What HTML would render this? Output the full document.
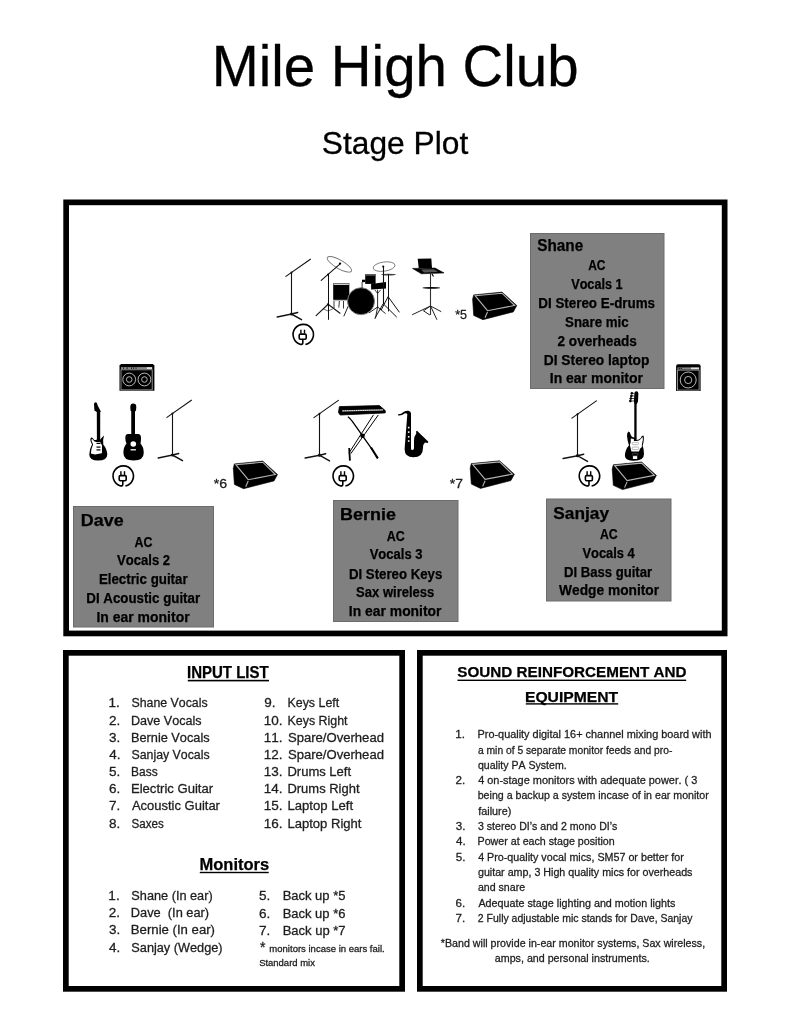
<!DOCTYPE html>
<html><head><meta charset="utf-8">
<style>
html,body{margin:0;padding:0;background:#fff;}
svg{display:block;will-change:transform;}
text{font-family:"Liberation Sans",sans-serif;font-kerning:none;white-space:pre;}
</style></head>
<body>
<svg width="791" height="1023" viewBox="0 0 791 1023">
<rect x="0" y="0" width="791" height="1023" fill="#fff"/>
<rect x="66.15" y="202.35" width="658.5" height="431.1" fill="none" stroke="#000" stroke-width="5.7"/>
<rect x="65.85" y="652.85" width="336.3" height="336" fill="none" stroke="#000" stroke-width="5.7"/>
<rect x="419.85" y="652.85" width="304.3" height="336" fill="none" stroke="#000" stroke-width="5.7"/>
<g fill="#808080" stroke="#6c6c6c" stroke-width="1">
<rect x="530.5" y="233.5" width="133.5" height="155"/>
<rect x="73.5" y="506.5" width="140" height="120.5"/>
<rect x="333.5" y="500.5" width="124.5" height="121"/>
<rect x="546.5" y="499" width="124.5" height="102"/>
</g>
<rect x="187.8" y="679.8" width="81.2" height="1.6" fill="#000"/>
<rect x="199.8" y="871.8" width="68.9" height="1.4" fill="#000"/>
<rect x="457.5" y="679.6" width="228.7" height="1.4" fill="#000"/>
<rect x="525.8" y="703.2" width="92.4" height="1.4" fill="#000"/>
<defs>
<g id="mic" fill="none" stroke="#111" stroke-linecap="round">
<line x1="-5.6" y1="3.9" x2="18.9" y2="-13.3" stroke-width="1.1"/>
<line x1="0" y1="0" x2="0" y2="41.5" stroke-width="1.1"/>
<path d="M-14.3,44.4 L0,41.5 L10,47.2 M0,41.5 L6.2,40" stroke-width="1.5"/>
<circle cx="0" cy="0" r="1" fill="#111" stroke="none"/>
<circle cx="0" cy="41.5" r="1.6" fill="#111" stroke="none"/>
</g>
<g id="pwr">
<path d="M-0.5,5 L-0.5,8.2 Q-0.5,10.1 -2.6,9.9 A10.2,10.2 0 1 1 2.1,10" fill="none" stroke="#000" stroke-width="1.6"/>
<rect x="-4.1" y="-0.4" width="7" height="5.2" rx="1.2" fill="none" stroke="#000" stroke-width="1.6"/>
<rect x="-3.1" y="-4.8" width="1.4" height="3.8" fill="#000"/>
<rect x="0.5" y="-4.8" width="1.4" height="3.8" fill="#000"/>
</g>
<g id="wedge">
<path d="M1.1,2.8 L29.4,0 L44.2,13.4 L40.7,19.8 L10.3,27.6 L1.1,23.3 L0,7.1 Z" fill="#000" stroke="#000" stroke-width="0.6" stroke-linejoin="round"/>
<path d="M2.5,3.6 L29.4,1.1 L42.1,13.4 L14.9,18.6 Z M14.9,19.9 L12.4,25.6" fill="none" stroke="#b5b5b5" stroke-width="1.1"/>
</g>
</defs>
<!-- mic stands -->
<use href="#mic" x="291.5" y="272.5"/>
<use href="#mic" x="172.5" y="413.5"/>
<use href="#mic" x="319.5" y="413.7"/>
<use href="#mic" x="577.5" y="414.2"/>
<!-- power -->
<use href="#pwr" x="303.3" y="334.5"/>
<use href="#pwr" x="123.3" y="476"/>
<use href="#pwr" x="343.3" y="476"/>
<use href="#pwr" x="589.5" y="476"/>
<!-- wedges -->
<use href="#wedge" x="472.6" y="292.1"/>
<use href="#wedge" x="233.3" y="461.1"/>
<use href="#wedge" x="470.2" y="460.8"/>
<use href="#wedge" x="612.2" y="462"/>
<!-- amps -->
<g transform="translate(119.5,364.1)">
<path d="M1.5,0 L33.4,0 L34.9,1.5 L34.9,26.7 L0,26.7 L0,1.5 Z" fill="#000"/>
<rect x="1.5" y="3" width="25.5" height="2" fill="#888"/><rect x="27" y="3" width="5.7" height="2" fill="#e0e0e0"/><g fill="#000"><rect x="3.5" y="3.4" width="1" height="1.2"/><rect x="7" y="3.4" width="1.2" height="1.2"/><rect x="11.5" y="3.4" width="1" height="1.2"/><rect x="13.5" y="3.4" width="1" height="1.2"/><rect x="16" y="3.4" width="1" height="1.2"/></g>
<rect x="1.5" y="5.7" width="31.2" height="20.1" fill="none" stroke="#b0b0b0" stroke-width="0.8"/>
<circle cx="9.7" cy="15.4" r="6.4" fill="none" stroke="#c8c8c8" stroke-width="0.9"/>
<circle cx="9.7" cy="15.4" r="2.8" fill="none" stroke="#c8c8c8" stroke-width="0.9"/>
<circle cx="24.9" cy="15.4" r="6.4" fill="none" stroke="#c8c8c8" stroke-width="0.9"/>
<circle cx="24.9" cy="15.4" r="2.8" fill="none" stroke="#c8c8c8" stroke-width="0.9"/>
</g>
<g transform="translate(676.1,364.3)">
<path d="M2,0 L22.5,0 Q24.5,0 24.5,2 L24.5,26.6 L0,26.6 L0,2 Q0,0 2,0 Z" fill="#000"/>
<rect x="1.3" y="3.1" width="13.6" height="2" fill="#888"/><rect x="14.9" y="3.1" width="8.1" height="2" fill="#e0e0e0"/><g fill="#000"><rect x="2.6" y="3.5" width="1" height="1.2"/><rect x="4.6" y="3.5" width="1" height="1.2"/></g>
<rect x="1.3" y="5.8" width="21.7" height="20" fill="none" stroke="#b0b0b0" stroke-width="0.8"/>
<circle cx="12.1" cy="15.7" r="8" fill="none" stroke="#c8c8c8" stroke-width="0.9"/>
<circle cx="12.1" cy="15.7" r="3.6" fill="none" stroke="#c8c8c8" stroke-width="0.9"/>
</g>
<!-- electric guitar -->
<g transform="translate(85,398)">
<path d="M10.6,4.2 Q8.7,4.3 9,6.6 L9.4,12.6 L11.8,13.9 L11.9,41.5 Q9.8,42.5 8.8,41.5 Q7.6,39.2 6.1,39.5 Q4.8,40.5 5.6,43.2 L7,46.5 Q4.6,50.5 4.3,56.5 Q4.3,62.6 13,62.6 Q22.3,62.6 22.3,56.5 Q22,51 18.3,46.5 Q17.6,42 19,37.4 Q16.6,39.5 15.2,41.8 L15.2,13.9 L15.9,13.4 Q14.2,10.5 12.6,7.2 Q12.3,4.2 10.6,4.2 Z" fill="#000"/>
<path d="M6.8,41.1 Q6.1,41.8 6.8,43.5 L8.1,46.6 Q6.2,50.4 5.9,55.6 L10,56.4 L14,55.7 L16.9,55.2 L17,47.6 L15.2,43.9 L11.9,43.9 Q9.4,44.1 8.6,42.6 Q7.7,40.8 6.8,41.1 Z" fill="#fff"/>
<rect x="11.5" y="44.8" width="4" height="1.2" fill="#000"/>
<rect x="11.5" y="48.5" width="4" height="1.2" fill="#000"/>
<rect x="11.5" y="51.3" width="4" height="1.2" fill="#000"/>
</g>
<!-- acoustic guitar -->
<g transform="translate(120,400)">
<path d="M13.3,3.6 Q10.3,3.6 10.3,7 L10.5,10.5 L11.25,11.5 L11.25,34 L8,34 Q5.3,34 5.3,38 Q5.3,41 6.5,43.5 Q3.4,47 3.4,53 Q3.4,60.6 13.6,60.6 Q23.75,60.6 23.75,53 Q23.75,47 20.5,43.5 Q21,41 21,38 Q21,34 18,34 L15,34 L15,11.5 L16,10.5 L16.3,7 Q16.3,3.6 13.3,3.6 Z" fill="#000"/>
<circle cx="13.3" cy="44" r="2.8" fill="#fff"/>
<rect x="10.6" y="49" width="5.3" height="1.5" fill="#ddd"/>
</g>
<!-- bass guitar -->
<g transform="translate(620,388)">
<path d="M16.4,3.2 Q14.5,3.2 14.4,5.5 L13.9,12.5 L14.3,16.5 L14.3,49.6 Q11.5,49.5 10.6,46.5 Q9.9,43.5 8.5,43.5 Q6.8,44.5 7,48 Q7.4,53 9,57.3 Q5,62 4.9,67.7 Q5,72.8 14,72.8 Q24,72.8 24,66 Q24,61 22.6,57.8 Q23.9,54 23.9,50 Q23.9,47.6 23,47.6 Q21.6,47.8 20.6,50.2 Q19.2,52 16.6,52 L16.6,16.5 L18,13.5 L18.4,5.5 Q18.3,3.2 16.4,3.2 Z" fill="#000"/>
<path d="M10.8,50.6 Q12.4,51 13.9,51 L13.9,53 L16.8,53 Q19.9,53 21.2,50.6 Q22,49.2 22.9,49.2 Q23,52.3 22.3,54.6 Q21.6,57 21.9,59 Q19.6,60 19,63.5 L11.4,63.5 Q10.8,60.5 9.9,57.3 Q11,54 10.8,50.6 Z" fill="#fff"/>
<rect x="12.2" y="54.3" width="6.4" height="2.3" rx="1.1" fill="none" stroke="#888" stroke-width="0.6"/>
<rect x="12.2" y="59" width="6.4" height="2.6" rx="1.1" fill="none" stroke="#888" stroke-width="0.6"/>
<rect x="12.4" y="65.2" width="5.6" height="2.2" rx="1" fill="none" stroke="#666" stroke-width="0.6"/>
<rect x="12.9" y="68.1" width="4.3" height="2.9" fill="#fff"/>
<g fill="#000" stroke="#000" stroke-width="0.7"><circle cx="11.8" cy="5.3" r="1"/><circle cx="11.3" cy="7.9" r="1"/><circle cx="10.8" cy="10.5" r="1"/><circle cx="10.3" cy="13" r="1"/><path d="M11.8,5.3 L14.5,5.3 M11.3,7.9 L14.3,7.9 M10.8,10.5 L14.1,10.5 M10.3,13 L14,13"/></g>
</g>
<!-- keyboard -->
<g transform="translate(335,400)">
<path d="M4.4,6.6 L44.5,5.6 L50.4,10.8 L50.2,12.9 L5.2,15 L3.5,12.5 Z" fill="#000" stroke="#000" stroke-width="0.8" stroke-linejoin="round"/>
<path d="M7,10.8 L48,9.8" stroke="#e6e6e6" stroke-width="1.3"/><path d="M7,10.8 L48,9.8" stroke="#000" stroke-width="0.7" stroke-dasharray="0.6 1.6"/>
<path d="M12.9,16.7 Q15.5,18.5 17,21 L36.2,48 L42.8,58.4" fill="none" stroke="#000" stroke-width="1.3"/>
<path d="M36,47.5 L42.8,58.4" stroke="#000" stroke-width="2"/>
<path d="M38.5,14.8 L14.3,52.5 L14.8,60.5" fill="none" stroke="#000" stroke-width="1"/>
<path d="M43.3,15 L15.8,53.6" fill="none" stroke="#000" stroke-width="1"/>
<path d="M14.2,48 L14.9,60.5" stroke="#000" stroke-width="1.8"/>
<circle cx="27.5" cy="35.8" r="2.3" fill="#000"/>
</g>
<!-- sax -->
<g transform="translate(390,400)">
<path d="M21,13.5 L21,48.5 Q21,50 22.5,50 Q24,50 24,48 L24,41 Q24,36 26.3,33.5 L26,31.5 L27,30.8 L38.4,41.8 L37.8,43 L35,42.5 Q33,44 33,48 Q33,57.3 23.5,57.3 Q14.6,57.3 14.6,49 L17.3,14.2 Q16.5,12.5 14.5,13.5 Q12,15.8 8.3,15.5 L7.9,14.2 Q11,14.5 13.5,12 Q16,10.5 18.5,10.8 Q21,11.3 21,13.5 Z" fill="#000"/>
<g fill="#fff"><rect x="17.9" y="26.8" width="1.6" height="1.6"/><rect x="17.9" y="31.3" width="1.6" height="1.6"/><rect x="17.9" y="36" width="1.6" height="1.6"/><rect x="17.9" y="40.2" width="1.6" height="1.6"/></g>
</g>
<!-- laptop stand -->
<g transform="translate(405,252)">
<path d="M12.7,6.8 L26.3,6.5 L27,16.1 L13.7,16.1 Z" fill="#000"/>
<path d="M7.5,16.4 L30.1,16.1 L39,20.9 L16.4,21.8 Z" fill="#000" stroke="#000" stroke-width="0.6"/>
<path d="M16,17.5 L29,17.3 L33,20 L19,20.6 Z" fill="#555"/>
<line x1="25.5" y1="21.8" x2="25.5" y2="63" stroke="#333" stroke-width="1.1"/>
<ellipse cx="26.3" cy="35.9" rx="8.9" ry="0.9" fill="#000"/>
<path d="M7.5,62.6 L25.5,54 L35.9,59.5 M25.5,54 L31.8,67.4 M25.5,54 L18.5,58.8 L24.6,62.9" fill="none" stroke="#222" stroke-width="1" stroke-linecap="round"/>
<path d="M27,22 L28.5,24.5" stroke="#000" stroke-width="1.2"/>
</g>
<!-- drum kit -->
<g>
<!-- left cymbal -->
<ellipse cx="339.4" cy="264.3" rx="13.8" ry="4.3" transform="rotate(30 339.4 264.3)" fill="none" stroke="#777" stroke-width="0.9"/>
<g fill="none" stroke="#111" stroke-linecap="round">
<line x1="321.2" y1="280.4" x2="340.7" y2="263.3" stroke-width="1.1"/>
<line x1="328.5" y1="274.6" x2="328.5" y2="319.4" stroke-width="1"/>
<path d="M316.1,315.6 L328.1,304.3 L340,313.2" stroke-width="1.1"/>
<path d="M323.5,309 L328.1,311 L332.5,309" stroke-width="0.6"/>
</g>
<circle cx="328.1" cy="274.6" r="1" fill="#000"/>
<circle cx="340" cy="263.6" r="1.1" fill="#000"/>
<circle cx="328.1" cy="304.3" r="1.1" fill="#000"/>
<!-- floor tom -->
<rect x="333.2" y="283.1" width="16.1" height="16.8" fill="#000"/>
<rect x="333.6" y="283.6" width="15.3" height="1.2" fill="#fff"/>
<rect x="333.2" y="299.9" width="16.1" height="1.2" fill="#bbb"/>
<g stroke="#222" fill="none">
<line x1="334" y1="301" x2="334" y2="308" stroke-width="0.9"/>
<line x1="339.4" y1="301" x2="338.8" y2="307.5" stroke-width="0.9"/>
<line x1="343.5" y1="301" x2="343.5" y2="308.5" stroke-width="0.9"/>
<line x1="348.3" y1="306" x2="343.8" y2="316.3" stroke-width="1"/>
</g>
<!-- bass drum -->
<circle cx="361" cy="301.2" r="13.5" fill="#000" stroke="#888" stroke-width="0.9"/>
<!-- tom mount -->
<rect x="362" y="279.7" width="3.3" height="2.4" fill="#000"/>
<line x1="362.1" y1="282" x2="362.1" y2="288" stroke="#222" stroke-width="0.9"/>
<!-- tom1 -->
<rect x="365.2" y="274.1" width="10.4" height="9.8" fill="#000"/>
<rect x="365.2" y="274.1" width="10.4" height="1.6" fill="#666"/>
<!-- tom2 -->
<path d="M371.1,284 L386,282 L386,288.6 L371.1,289.6 Z" fill="#000"/>
<!-- right cymbal -->
<ellipse cx="384.1" cy="266.6" rx="11" ry="4.6" transform="rotate(-8 384.1 266.6)" fill="none" stroke="#777" stroke-width="0.9"/>
<ellipse cx="388.6" cy="274.6" rx="7.5" ry="0.9" fill="#444"/>
<g fill="none" stroke="#111" stroke-linecap="round">
<line x1="383.5" y1="266.5" x2="383.5" y2="303.7" stroke-width="1.1"/>
<line x1="388.5" y1="274.6" x2="388.5" y2="311" stroke-width="1"/>
<path d="M381.2,309.9 L388.1,296.7 L399.2,312" stroke-width="1"/>
<path d="M374.9,318.3 L383.2,303.7 L396.5,316.9" stroke-width="1"/>
<path d="M377.6,290 L377.6,307 M369.3,312.7 L377.6,307 L385.3,313.4 M377.6,307 L375.5,318" stroke-width="0.9"/>
<path d="M375,290 L377.6,293.5 L380.5,290" stroke-width="0.8"/>
</g>
<circle cx="383.2" cy="266.6" r="1" fill="#000"/>
</g>

<text x="211.77" y="86.10" font-size="56.69" stroke="#000" stroke-width="0.30" fill="#000" textLength="366.80" lengthAdjust="spacingAndGlyphs">Mile High Club</text>
<text x="321.86" y="154.10" font-size="31.98" stroke="#000" stroke-width="0.30" fill="#000" textLength="146.37" lengthAdjust="spacingAndGlyphs">Stage Plot</text>
<text x="537.26" y="250.60" font-size="16.42" font-weight="bold" stroke="#000" stroke-width="0.25" fill="#000" textLength="45.96" lengthAdjust="spacingAndGlyphs">Shane</text>
<text x="80.80" y="525.90" font-size="16.42" font-weight="bold" stroke="#000" stroke-width="0.25" fill="#000" textLength="42.81" lengthAdjust="spacingAndGlyphs">Dave</text>
<text x="340.10" y="520.40" font-size="16.42" font-weight="bold" stroke="#000" stroke-width="0.25" fill="#000" textLength="55.81" lengthAdjust="spacingAndGlyphs">Bernie</text>
<text x="553.30" y="518.70" font-size="16.42" font-weight="bold" stroke="#000" stroke-width="0.25" fill="#000" textLength="55.79" lengthAdjust="spacingAndGlyphs">Sanjay</text>
<text x="588.20" y="270.00" font-size="13.81" font-weight="bold" stroke="#000" stroke-width="0.25" fill="#000" textLength="17.33" lengthAdjust="spacingAndGlyphs">AC</text>
<text x="571.21" y="288.90" font-size="13.81" font-weight="bold" stroke="#000" stroke-width="0.25" fill="#000" textLength="51.34" lengthAdjust="spacingAndGlyphs">Vocals 1</text>
<text x="538.30" y="307.90" font-size="13.81" font-weight="bold" stroke="#000" stroke-width="0.25" fill="#000" textLength="116.74" lengthAdjust="spacingAndGlyphs">DI Stereo E-drums</text>
<text x="565.12" y="326.90" font-size="13.81" font-weight="bold" stroke="#000" stroke-width="0.25" fill="#000" textLength="63.47" lengthAdjust="spacingAndGlyphs">Snare mic</text>
<text x="557.53" y="345.50" font-size="13.81" font-weight="bold" stroke="#000" stroke-width="0.25" fill="#000" textLength="79.33" lengthAdjust="spacingAndGlyphs">2 overheads</text>
<text x="543.78" y="364.70" font-size="13.81" font-weight="bold" stroke="#000" stroke-width="0.25" fill="#000" textLength="105.59" lengthAdjust="spacingAndGlyphs">DI Stereo laptop</text>
<text x="549.76" y="383.30" font-size="13.81" font-weight="bold" stroke="#000" stroke-width="0.25" fill="#000" textLength="93.25" lengthAdjust="spacingAndGlyphs">In ear monitor</text>
<text x="134.49" y="546.60" font-size="13.81" font-weight="bold" stroke="#000" stroke-width="0.25" fill="#000" textLength="17.85" lengthAdjust="spacingAndGlyphs">AC</text>
<text x="117.11" y="565.20" font-size="13.81" font-weight="bold" stroke="#000" stroke-width="0.25" fill="#000" textLength="53.01" lengthAdjust="spacingAndGlyphs">Vocals 2</text>
<text x="98.91" y="584.00" font-size="13.81" font-weight="bold" stroke="#000" stroke-width="0.25" fill="#000" textLength="88.69" lengthAdjust="spacingAndGlyphs">Electric guitar</text>
<text x="86.31" y="602.60" font-size="13.81" font-weight="bold" stroke="#000" stroke-width="0.25" fill="#000" textLength="113.79" lengthAdjust="spacingAndGlyphs">DI Acoustic guitar</text>
<text x="96.47" y="621.80" font-size="13.81" font-weight="bold" stroke="#000" stroke-width="0.25" fill="#000" textLength="93.15" lengthAdjust="spacingAndGlyphs">In ear monitor</text>
<text x="386.69" y="540.80" font-size="13.81" font-weight="bold" stroke="#000" stroke-width="0.25" fill="#000" textLength="17.95" lengthAdjust="spacingAndGlyphs">AC</text>
<text x="369.71" y="559.40" font-size="13.81" font-weight="bold" stroke="#000" stroke-width="0.25" fill="#000" textLength="52.76" lengthAdjust="spacingAndGlyphs">Vocals 3</text>
<text x="348.91" y="578.50" font-size="13.81" font-weight="bold" stroke="#000" stroke-width="0.25" fill="#000" textLength="93.43" lengthAdjust="spacingAndGlyphs">DI Stereo Keys</text>
<text x="356.12" y="597.30" font-size="13.81" font-weight="bold" stroke="#000" stroke-width="0.25" fill="#000" textLength="78.21" lengthAdjust="spacingAndGlyphs">Sax wireless</text>
<text x="348.87" y="616.00" font-size="13.81" font-weight="bold" stroke="#000" stroke-width="0.25" fill="#000" textLength="92.64" lengthAdjust="spacingAndGlyphs">In ear monitor</text>
<text x="599.89" y="538.70" font-size="13.81" font-weight="bold" stroke="#000" stroke-width="0.25" fill="#000" textLength="17.74" lengthAdjust="spacingAndGlyphs">AC</text>
<text x="582.41" y="558.10" font-size="13.81" font-weight="bold" stroke="#000" stroke-width="0.25" fill="#000" textLength="52.36" lengthAdjust="spacingAndGlyphs">Vocals 4</text>
<text x="563.92" y="576.70" font-size="13.81" font-weight="bold" stroke="#000" stroke-width="0.25" fill="#000" textLength="88.18" lengthAdjust="spacingAndGlyphs">DI Bass guitar</text>
<text x="559.09" y="595.30" font-size="13.81" font-weight="bold" stroke="#000" stroke-width="0.25" fill="#000" textLength="100.02" lengthAdjust="spacingAndGlyphs">Wedge monitor</text>
<text x="455.20" y="319.00" font-size="12.50" stroke="#222" stroke-width="0.30" fill="#222">*5</text>
<text x="213.67" y="487.90" font-size="12.50" stroke="#222" stroke-width="0.30" fill="#222" textLength="13.35" lengthAdjust="spacingAndGlyphs">*6</text>
<text x="449.78" y="488.10" font-size="12.50" stroke="#222" stroke-width="0.30" fill="#222" textLength="13.12" lengthAdjust="spacingAndGlyphs">*7</text>
<text x="187.00" y="677.50" font-size="15.99" font-weight="bold" stroke="#000" stroke-width="0.25" fill="#000" textLength="81.66" lengthAdjust="spacingAndGlyphs">INPUT LIST</text>
<text x="108.57" y="707.40" font-size="13.52" stroke="#1e1e1e" stroke-width="0.30" fill="#1e1e1e">1.</text>
<text x="131.44" y="707.40" font-size="13.52" stroke="#1e1e1e" stroke-width="0.30" fill="#1e1e1e" textLength="76.21" lengthAdjust="spacingAndGlyphs">Shane Vocals</text>
<text x="264.17" y="707.40" font-size="13.52" stroke="#1e1e1e" stroke-width="0.30" fill="#1e1e1e">9.</text>
<text x="287.48" y="707.40" font-size="13.52" stroke="#1e1e1e" stroke-width="0.30" fill="#1e1e1e" textLength="51.71" lengthAdjust="spacingAndGlyphs">Keys Left</text>
<text x="108.92" y="724.57" font-size="13.52" stroke="#1e1e1e" stroke-width="0.30" fill="#1e1e1e">2.</text>
<text x="130.97" y="724.57" font-size="13.52" stroke="#1e1e1e" stroke-width="0.30" fill="#1e1e1e" textLength="70.59" lengthAdjust="spacingAndGlyphs">Dave Vocals</text>
<text x="263.77" y="724.57" font-size="13.52" stroke="#1e1e1e" stroke-width="0.30" fill="#1e1e1e">10.</text>
<text x="287.48" y="724.57" font-size="13.52" stroke="#1e1e1e" stroke-width="0.30" fill="#1e1e1e" textLength="60.11" lengthAdjust="spacingAndGlyphs">Keys Right</text>
<text x="109.09" y="741.74" font-size="13.52" stroke="#1e1e1e" stroke-width="0.30" fill="#1e1e1e">3.</text>
<text x="130.95" y="741.74" font-size="13.52" stroke="#1e1e1e" stroke-width="0.30" fill="#1e1e1e" textLength="78.71" lengthAdjust="spacingAndGlyphs">Bernie Vocals</text>
<text x="263.77" y="741.74" font-size="13.52" stroke="#1e1e1e" stroke-width="0.30" fill="#1e1e1e">11.</text>
<text x="287.91" y="741.74" font-size="13.52" stroke="#1e1e1e" stroke-width="0.30" fill="#1e1e1e" textLength="96.04" lengthAdjust="spacingAndGlyphs">Spare/Overhead</text>
<text x="109.29" y="758.91" font-size="13.52" stroke="#1e1e1e" stroke-width="0.30" fill="#1e1e1e">4.</text>
<text x="131.44" y="758.91" font-size="13.52" stroke="#1e1e1e" stroke-width="0.30" fill="#1e1e1e" textLength="78.21" lengthAdjust="spacingAndGlyphs">Sanjay Vocals</text>
<text x="263.77" y="758.91" font-size="13.52" stroke="#1e1e1e" stroke-width="0.30" fill="#1e1e1e">12.</text>
<text x="287.91" y="758.91" font-size="13.52" stroke="#1e1e1e" stroke-width="0.30" fill="#1e1e1e" textLength="96.04" lengthAdjust="spacingAndGlyphs">Spare/Overhead</text>
<text x="109.06" y="776.08" font-size="13.52" stroke="#1e1e1e" stroke-width="0.30" fill="#1e1e1e">5.</text>
<text x="131.02" y="776.08" font-size="13.52" stroke="#1e1e1e" stroke-width="0.30" fill="#1e1e1e" textLength="26.61" lengthAdjust="spacingAndGlyphs">Bass</text>
<text x="263.77" y="776.08" font-size="13.52" stroke="#1e1e1e" stroke-width="0.30" fill="#1e1e1e">13.</text>
<text x="287.43" y="776.08" font-size="13.52" stroke="#1e1e1e" stroke-width="0.30" fill="#1e1e1e" textLength="63.66" lengthAdjust="spacingAndGlyphs">Drums Left</text>
<text x="108.91" y="793.25" font-size="13.52" stroke="#1e1e1e" stroke-width="0.30" fill="#1e1e1e">6.</text>
<text x="130.93" y="793.25" font-size="13.52" stroke="#1e1e1e" stroke-width="0.30" fill="#1e1e1e" textLength="82.19" lengthAdjust="spacingAndGlyphs">Electric Guitar</text>
<text x="263.77" y="793.25" font-size="13.52" stroke="#1e1e1e" stroke-width="0.30" fill="#1e1e1e">14.</text>
<text x="287.44" y="793.25" font-size="13.52" stroke="#1e1e1e" stroke-width="0.30" fill="#1e1e1e" textLength="72.06" lengthAdjust="spacingAndGlyphs">Drums Right</text>
<text x="108.91" y="810.42" font-size="13.52" stroke="#1e1e1e" stroke-width="0.30" fill="#1e1e1e">7.</text>
<text x="131.97" y="810.42" font-size="13.52" stroke="#1e1e1e" stroke-width="0.30" fill="#1e1e1e" textLength="87.94" lengthAdjust="spacingAndGlyphs">Acoustic Guitar</text>
<text x="263.77" y="810.42" font-size="13.52" stroke="#1e1e1e" stroke-width="0.30" fill="#1e1e1e">15.</text>
<text x="287.42" y="810.42" font-size="13.52" stroke="#1e1e1e" stroke-width="0.30" fill="#1e1e1e" textLength="65.67" lengthAdjust="spacingAndGlyphs">Laptop Left</text>
<text x="109.01" y="827.59" font-size="13.52" stroke="#1e1e1e" stroke-width="0.30" fill="#1e1e1e">8.</text>
<text x="131.47" y="827.59" font-size="13.52" stroke="#1e1e1e" stroke-width="0.30" fill="#1e1e1e" textLength="32.25" lengthAdjust="spacingAndGlyphs">Saxes</text>
<text x="263.77" y="827.59" font-size="13.52" stroke="#1e1e1e" stroke-width="0.30" fill="#1e1e1e">16.</text>
<text x="287.43" y="827.59" font-size="13.52" stroke="#1e1e1e" stroke-width="0.30" fill="#1e1e1e" textLength="74.07" lengthAdjust="spacingAndGlyphs">Laptop Right</text>
<text x="199.50" y="869.50" font-size="16.28" font-weight="bold" stroke="#000" stroke-width="0.25" fill="#000" textLength="69.68" lengthAdjust="spacingAndGlyphs">Monitors</text>
<text x="108.37" y="899.50" font-size="13.52" stroke="#1e1e1e" stroke-width="0.30" fill="#1e1e1e">1.</text>
<text x="131.32" y="899.50" font-size="13.52" stroke="#1e1e1e" stroke-width="0.30" fill="#1e1e1e" textLength="81.37" lengthAdjust="spacingAndGlyphs">Shane (In ear)</text>
<text x="108.72" y="917.20" font-size="13.52" stroke="#1e1e1e" stroke-width="0.30" fill="#1e1e1e">2.</text>
<text x="130.85" y="917.20" font-size="13.52" stroke="#1e1e1e" stroke-width="0.30" fill="#1e1e1e" textLength="78.24" lengthAdjust="spacingAndGlyphs">Dave  (In ear)</text>
<text x="108.89" y="934.00" font-size="13.52" stroke="#1e1e1e" stroke-width="0.30" fill="#1e1e1e">3.</text>
<text x="130.82" y="934.00" font-size="13.52" stroke="#1e1e1e" stroke-width="0.30" fill="#1e1e1e" textLength="84.20" lengthAdjust="spacingAndGlyphs">Bernie (In ear)</text>
<text x="109.09" y="951.70" font-size="13.52" stroke="#1e1e1e" stroke-width="0.30" fill="#1e1e1e">4.</text>
<text x="131.32" y="951.70" font-size="13.52" stroke="#1e1e1e" stroke-width="0.30" fill="#1e1e1e" textLength="91.27" lengthAdjust="spacingAndGlyphs">Sanjay (Wedge)</text>
<text x="259.06" y="899.80" font-size="13.52" stroke="#1e1e1e" stroke-width="0.30" fill="#1e1e1e">5.</text>
<text x="282.63" y="899.80" font-size="13.52" stroke="#1e1e1e" stroke-width="0.30" fill="#1e1e1e" textLength="62.81" lengthAdjust="spacingAndGlyphs">Back up *5</text>
<text x="258.91" y="917.50" font-size="13.52" stroke="#1e1e1e" stroke-width="0.30" fill="#1e1e1e">6.</text>
<text x="282.63" y="917.50" font-size="13.52" stroke="#1e1e1e" stroke-width="0.30" fill="#1e1e1e" textLength="62.84" lengthAdjust="spacingAndGlyphs">Back up *6</text>
<text x="258.91" y="934.50" font-size="13.52" stroke="#1e1e1e" stroke-width="0.30" fill="#1e1e1e">7.</text>
<text x="282.63" y="934.50" font-size="13.52" stroke="#1e1e1e" stroke-width="0.30" fill="#1e1e1e" textLength="62.92" lengthAdjust="spacingAndGlyphs">Back up *7</text>
<text x="260.07" y="951.60" font-size="14.00" stroke="#1e1e1e" stroke-width="0.30" fill="#1e1e1e">*</text>
<text x="269.37" y="952.20" font-size="9.59" stroke="#1e1e1e" stroke-width="0.30" fill="#1e1e1e" textLength="115.30" lengthAdjust="spacingAndGlyphs">monitors incase in ears fail.</text>
<text x="259.17" y="965.80" font-size="9.59" stroke="#1e1e1e" stroke-width="0.30" fill="#1e1e1e" textLength="55.73" lengthAdjust="spacingAndGlyphs">Standard mix</text>
<text x="457.26" y="677.20" font-size="15.26" font-weight="bold" stroke="#000" stroke-width="0.25" fill="#000" textLength="229.38" lengthAdjust="spacingAndGlyphs">SOUND REINFORCEMENT AND</text>
<text x="524.95" y="701.60" font-size="15.26" font-weight="bold" stroke="#000" stroke-width="0.25" fill="#000" textLength="93.22" lengthAdjust="spacingAndGlyphs">EQUIPMENT</text>
<text x="455.31" y="738.10" font-size="11.63" stroke="#1e1e1e" stroke-width="0.30" fill="#1e1e1e">1.</text>
<text x="477.51" y="738.10" font-size="11.63" stroke="#1e1e1e" stroke-width="0.30" fill="#1e1e1e" textLength="234.00" lengthAdjust="spacingAndGlyphs">Pro-quality digital 16+ channel mixing board with</text>
<text x="477.96" y="753.70" font-size="11.63" stroke="#1e1e1e" stroke-width="0.30" fill="#1e1e1e" textLength="194.39" lengthAdjust="spacingAndGlyphs">a min of 5 separate monitor feeds and pro-</text>
<text x="477.96" y="769.30" font-size="11.63" stroke="#1e1e1e" stroke-width="0.30" fill="#1e1e1e" textLength="88.71" lengthAdjust="spacingAndGlyphs">quality PA System.</text>
<text x="455.62" y="783.80" font-size="11.63" stroke="#1e1e1e" stroke-width="0.30" fill="#1e1e1e">2.</text>
<text x="478.15" y="783.80" font-size="11.63" stroke="#1e1e1e" stroke-width="0.30" fill="#1e1e1e" textLength="219.23" lengthAdjust="spacingAndGlyphs">4 on-stage monitors with adequate power. ( 3</text>
<text x="477.71" y="799.40" font-size="11.63" stroke="#1e1e1e" stroke-width="0.30" fill="#1e1e1e" textLength="231.06" lengthAdjust="spacingAndGlyphs">being a backup a system incase of in ear monitor</text>
<text x="478.25" y="814.60" font-size="11.63" stroke="#1e1e1e" stroke-width="0.30" fill="#1e1e1e" textLength="33.02" lengthAdjust="spacingAndGlyphs">failure)</text>
<text x="455.76" y="829.80" font-size="11.63" stroke="#1e1e1e" stroke-width="0.30" fill="#1e1e1e">3.</text>
<text x="478.00" y="829.80" font-size="11.63" stroke="#1e1e1e" stroke-width="0.30" fill="#1e1e1e" textLength="139.39" lengthAdjust="spacingAndGlyphs">3 stereo DI’s and 2 mono DI’s</text>
<text x="455.93" y="845.20" font-size="11.63" stroke="#1e1e1e" stroke-width="0.30" fill="#1e1e1e">4.</text>
<text x="477.52" y="845.20" font-size="11.63" stroke="#1e1e1e" stroke-width="0.30" fill="#1e1e1e" textLength="137.17" lengthAdjust="spacingAndGlyphs">Power at each stage position</text>
<text x="455.73" y="860.80" font-size="11.63" stroke="#1e1e1e" stroke-width="0.30" fill="#1e1e1e">5.</text>
<text x="478.15" y="860.80" font-size="11.63" stroke="#1e1e1e" stroke-width="0.30" fill="#1e1e1e" textLength="205.72" lengthAdjust="spacingAndGlyphs">4 Pro-quality vocal mics, SM57 or better for</text>
<text x="477.95" y="876.20" font-size="11.63" stroke="#1e1e1e" stroke-width="0.30" fill="#1e1e1e" textLength="214.54" lengthAdjust="spacingAndGlyphs">guitar amp, 3 High quality mics for overheads</text>
<text x="477.95" y="891.40" font-size="11.63" stroke="#1e1e1e" stroke-width="0.30" fill="#1e1e1e" textLength="47.12" lengthAdjust="spacingAndGlyphs">and snare</text>
<text x="455.61" y="906.60" font-size="11.63" stroke="#1e1e1e" stroke-width="0.30" fill="#1e1e1e">6.</text>
<text x="478.38" y="906.60" font-size="11.63" stroke="#1e1e1e" stroke-width="0.30" fill="#1e1e1e" textLength="196.91" lengthAdjust="spacingAndGlyphs">Adequate stage lighting and motion lights</text>
<text x="455.60" y="922.00" font-size="11.63" stroke="#1e1e1e" stroke-width="0.30" fill="#1e1e1e">7.</text>
<text x="477.87" y="922.00" font-size="11.63" stroke="#1e1e1e" stroke-width="0.30" fill="#1e1e1e" textLength="214.65" lengthAdjust="spacingAndGlyphs">2 Fully adjustable mic stands for Dave, Sanjay</text>
<text x="440.83" y="947.00" font-size="11.63" stroke="#1e1e1e" stroke-width="0.30" fill="#1e1e1e" textLength="264.33" lengthAdjust="spacingAndGlyphs">*Band will provide in-ear monitor systems, Sax wireless,</text>
<text x="494.85" y="962.40" font-size="11.63" stroke="#1e1e1e" stroke-width="0.30" fill="#1e1e1e" textLength="154.93" lengthAdjust="spacingAndGlyphs">amps, and personal instruments.</text>
</svg>
</body></html>
